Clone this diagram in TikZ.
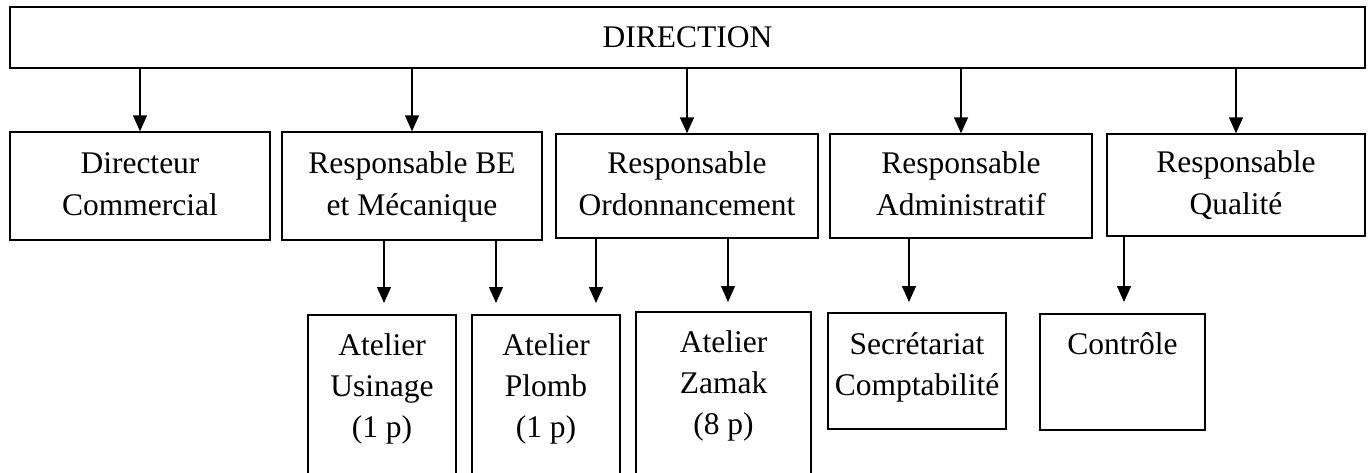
\documentclass[tikz,border=0pt]{standalone}
\usepackage{fontspec}
\setmainfont{Liberation Serif}
\usetikzlibrary{arrows.meta}
\begin{document}
\begin{tikzpicture}[x=1pt,y=-1pt,
  box/.style={draw, line width=1.4pt, inner sep=0pt, align=center,
    font=\fontsize{31.5}{41.5}\selectfont},
  txt/.style={inner sep=0pt, align=center, anchor=north,
    font=\fontsize{31.5}{41}\selectfont},
  arr/.style={line width=1.4pt, -{Triangle[width=14pt,length=16pt]}}]
\clip (0,0) rectangle (1368,472);
\fill[white] (0,0) rectangle (1368,472);
% top
\node[box, minimum width=1355pt, minimum height=61pt] (dir) at (687.5,37.5) {DIRECTION};
% level 2
\node[box, minimum width=260pt, minimum height=108pt] (b1) at (140,186) {\strut Directeur\\Commercial\strut};
\node[box, minimum width=260pt, minimum height=108pt] (b2) at (412,186) {\strut Responsable BE\\et Mécanique\strut};
\node[box, minimum width=262pt, minimum height=104pt] (b3) at (687,186) {\strut Responsable\\Ordonnancement\strut};
\node[box, minimum width=262pt, minimum height=104pt] (b4) at (961,186) {\strut Responsable\\Administratif\strut};
\node[box, minimum width=258pt, minimum height=102pt] (b5) at (1236,185) {\strut Responsable\\Qualité\strut};
% level 3 boxes
\node[box, minimum width=148pt, minimum height=165pt] (c1) at (382,397.5) {};
\node[box, minimum width=148pt, minimum height=165pt] (c2) at (546,397.5) {};
\node[box, minimum width=175pt, minimum height=168pt] (c3) at (723.5,396) {};
\node[box, minimum width=178pt, minimum height=116pt] (c4) at (917,371) {};
\node[box, minimum width=165pt, minimum height=116pt] (c5) at (1122.5,372) {};
% level 3 texts
\node[txt] (t1) at ([yshift=-19pt]c1.north) {Atelier\\Usinage\\(1 p)};
\node[txt] (t2) at ([yshift=-19pt]c2.north) {Atelier\\Plomb\\(1 p)};
\node[txt] (t3) at ([yshift=-19pt]c3.north) {Atelier\\Zamak\\(8 p)};
\node[txt] (t4) at ([yshift=-20pt]c4.north) {Secrétariat\\Comptabilité};
\node[txt] (t5) at ([yshift=-19pt]c5.north) {Contrôle};
% arrows from direction
\foreach \b in {b1,b2,b3,b4,b5}
  \draw[arr] (dir.south -| \b.north) -- (\b.north);
% free ends of lower arrows
\coordinate (e1) at (384,303);
\coordinate (e2) at (496,303);
\coordinate (e3) at (596,303);
\coordinate (e4) at (728,302);
\coordinate (e5) at (909,302);
\coordinate (e6) at (1124,302);
\draw[arr] (b2.south -| e1) -- (e1);
\draw[arr] (b2.south -| e2) -- (e2);
\draw[arr] (b3.south -| e3) -- (e3);
\draw[arr] (b3.south -| e4) -- (e4);
\draw[arr] (b4.south -| e5) -- (e5);
\draw[arr] (b5.south -| e6) -- (e6);
\end{tikzpicture}
\end{document}
